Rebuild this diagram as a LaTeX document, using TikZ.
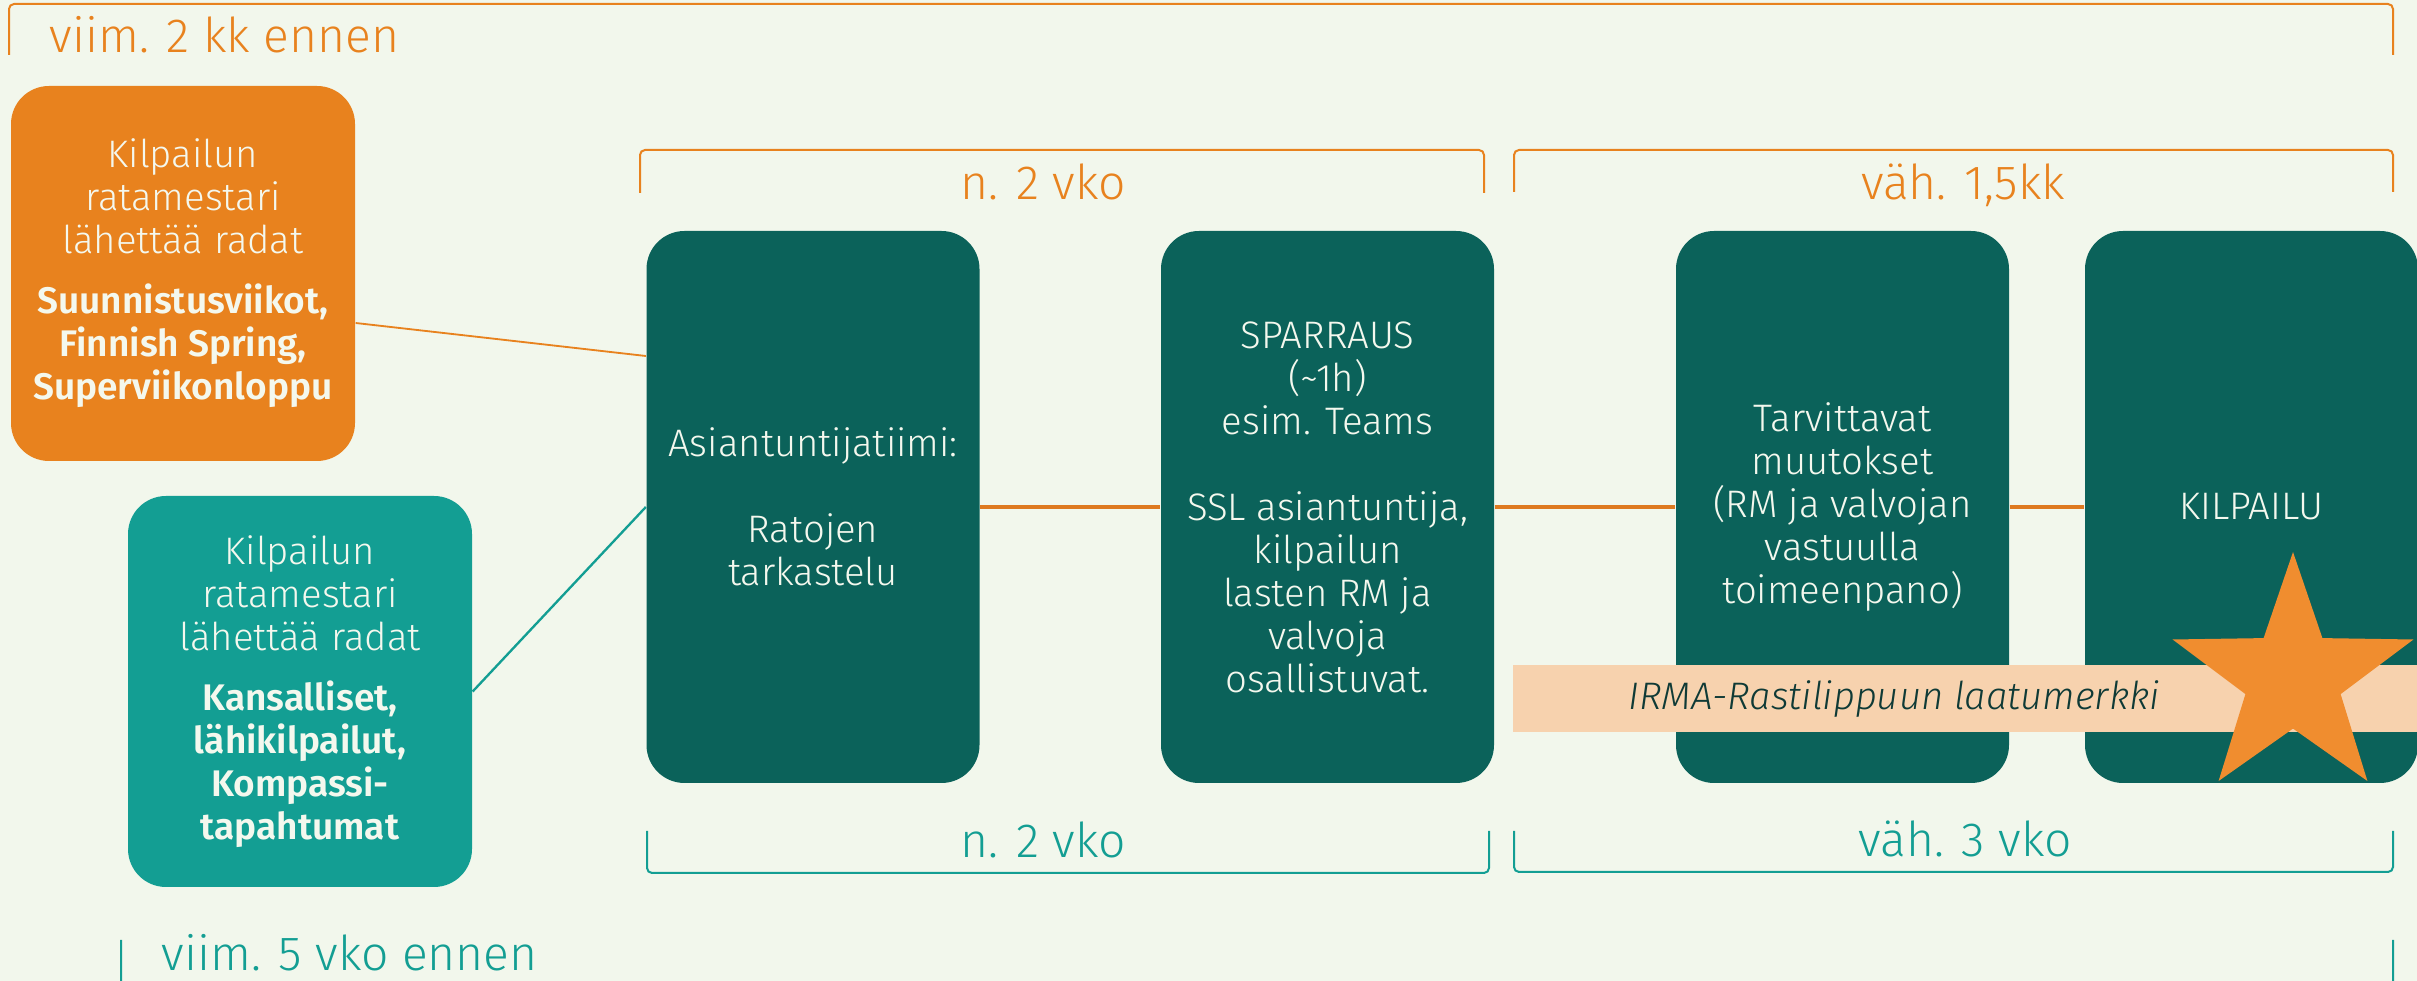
\documentclass[tikz,border=0pt]{standalone}
\usepackage{fontspec}
\setmainfont{Fira Sans}[UprightFont={* Light}, BoldFont={* SemiBold}, ItalicFont={* Light Italic}, BoldItalicFont={* SemiBold Italic}]
\definecolor{bgc}{HTML}{F2F7EC}
\definecolor{orng}{HTML}{E8821E}
\definecolor{tealc}{HTML}{139E93}
\definecolor{darkc}{HTML}{0B625A}
\definecolor{peach}{HTML}{F7D2AE}
\definecolor{starc}{HTML}{F08D2F}
\definecolor{txtw}{HTML}{F4F8EE}
\definecolor{irmac}{HTML}{0F3A36}
\definecolor{lineo}{HTML}{DE7A20}
\newcommand\bln[1]{{\fontsize{11.1}{12.9}\selectfont\bfseries #1}}
\tikzset{
  stagebox/.style={rectangle, rounded corners=11.4pt, inner sep=0pt, fill=darkc, text=txtw, align=center,
    minimum width=99.9pt, minimum height=165.6pt, font=\fontsize{11.5}{12.9}\selectfont},
  srcbox/.style={rectangle, rounded corners=11.4pt, inner sep=0pt, text=txtw, align=center,
    minimum width=103.2pt, font=\fontsize{11.5}{12.9}\selectfont},
  hdtext/.style={inner sep=0pt, font=\fontsize{14.4}{16}\selectfont},
  brk/.style={line width=0.6pt, rounded corners=1.5pt},
  thinlink/.style={line width=0.55pt},
  thicklink/.style={line width=1.2pt, lineo},
}
\begin{document}
\begin{tikzpicture}[x=0.3pt, y=-0.3pt]
\useasboundingbox (0,0) rectangle (2417,981);
\clip (0,0) rectangle (2417,981);
\fill[bgc] (0,0) rectangle (2417,981);

% brackets
\draw[brk, orng] (9,55) -- (9,4) -- (2393,4) -- (2393,55);
\draw[brk, orng] (640,193) -- (640,150) -- (1484,150) -- (1484,193);
\draw[brk, orng] (1514,192) -- (1514,150) -- (2393,150) -- (2393,192);
\draw[brk, tealc] (647,831) -- (647,873) -- (1489,873) -- (1489,831);
\draw[brk, tealc] (1514,831) -- (1514,872) -- (2393,872) -- (2393,831);
\draw[brk, tealc] (121,940) -- (121,1000) -- (2393,1000) -- (2393,940);

% heading texts
\node[hdtext, orng, anchor=base west] (h1) at (49,53) {viim. 2 kk ennen};
\node[hdtext, orng, anchor=base] (h2) at (1043,200) {n. 2 vko};
\node[hdtext, orng, anchor=base] (h3) at (1963,200) {väh. 1,5kk};
\node[hdtext, tealc, anchor=base] (h4) at (1043,858) {n. 2 vko};
\node[hdtext, tealc, anchor=base] (h5) at (1965,857) {väh. 3 vko};
\node[hdtext, tealc, anchor=base west] (h6) at (161,970) {viim. 5 vko ennen};

% source boxes
\node[srcbox, fill=orng, minimum height=112.5pt] (ob) at (183,273.5)
  {Kilpailun\\ratamestari\\lähettää radat\\[5.1pt]\bln{Suunnistusviikot,}\\\bln{Finnish Spring,}\\\bln{Superviikonloppu}};
\node[srcbox, fill=tealc, minimum height=117.3pt] (tb) at (300,691.5)
  {Kilpailun\\ratamestari\\lähettää radat\\[5.1pt]\bln{Kansalliset,}\\\bln{lähikilpailut,}\\\bln{Kompassi-}\\\bln{tapahtumat}};

% stage boxes
\node[stagebox] (b1) at (813,507) {Asiantuntijatiimi:\\[12.9pt]Ratojen\\tarkastelu};
\node[stagebox] (b2) at (1327.5,507) {SPARRAUS\\(\textasciitilde 1h)\\esim. Teams\\[12.9pt]SSL asiantuntija,\\kilpailun\\lasten RM ja\\valvoja\\osallistuvat.};
\node[stagebox] (b3) at (1842.5,507) {Tarvittavat\\muutokset\\(RM ja valvojan\\vastuulla\\toimeenpano)};
\node[stagebox] (b4) at (2251.5,507) {KILPAILU};

% connectors
\draw[thinlink, orng] ([yshift=-14.85pt]ob.east) -- ([yshift=45.3pt]b1.west);
\draw[thinlink, tealc, line width=0.7pt] (tb.east) -- (b1.west);
\draw[thicklink] (b1.east) -- (b2.west);
\draw[thicklink] (b2.east) -- (b3.west);
\draw[thicklink] (b3.east) -- (b4.west);

% quality band
\fill[peach] (1513,665) rectangle (2417,732);
\node[inner sep=0pt, anchor=base, text=irmac, font=\fontsize{11.5}{12.9}\selectfont\itshape] (irma) at (1894,710) {IRMA-Rastilippuun laatumerkki};

% star
\fill[starc] (2293,552) -- (2322.4,638.1) -- (2413.4,639.5) -- (2340.6,694.1) -- (2367.4,781)
  -- (2293,728.6) -- (2218.6,781) -- (2245.4,694.1) -- (2172.6,639.5) -- (2263.6,638.1) -- cycle;
\end{tikzpicture}
\end{document}
